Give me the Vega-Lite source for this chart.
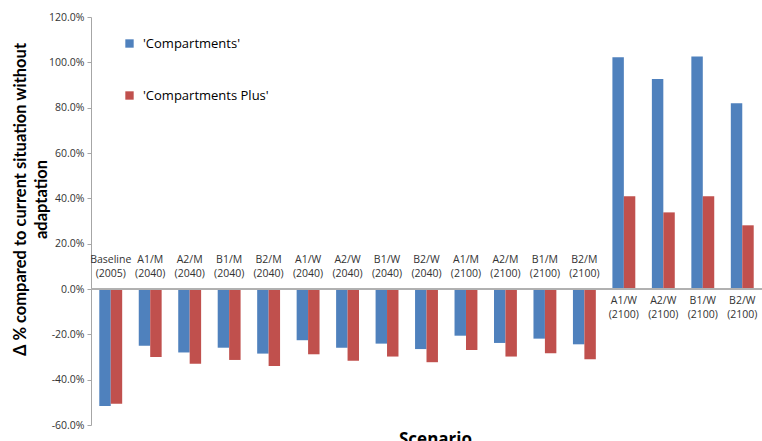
{
  "$schema": "https://vega.github.io/schema/vega-lite/v6.json",
  "width": 671,
  "height": 408,
  "autosize": {"type": "none"},
  "padding": {"left": 91, "top": 17, "right": 0, "bottom": 16},
  "background": "white",
  "config": {
    "view": {"stroke": null},
    "font": "Open Sans"
  },
  "data": {
    "values": [
      {"scenario": "Baseline (2005)", "series": "'Compartments'", "value": -51.6},
      {"scenario": "Baseline (2005)", "series": "'Compartments Plus'", "value": -50.6},
      {"scenario": "A1/M (2040)", "series": "'Compartments'", "value": -25.0},
      {"scenario": "A1/M (2040)", "series": "'Compartments Plus'", "value": -30.0},
      {"scenario": "A2/M (2040)", "series": "'Compartments'", "value": -28.0},
      {"scenario": "A2/M (2040)", "series": "'Compartments Plus'", "value": -33.0},
      {"scenario": "B1/M (2040)", "series": "'Compartments'", "value": -25.9},
      {"scenario": "B1/M (2040)", "series": "'Compartments Plus'", "value": -31.3},
      {"scenario": "B2/M (2040)", "series": "'Compartments'", "value": -28.5},
      {"scenario": "B2/M (2040)", "series": "'Compartments Plus'", "value": -34.0},
      {"scenario": "A1/W (2040)", "series": "'Compartments'", "value": -22.6},
      {"scenario": "A1/W (2040)", "series": "'Compartments Plus'", "value": -28.8},
      {"scenario": "A2/W (2040)", "series": "'Compartments'", "value": -25.9},
      {"scenario": "A2/W (2040)", "series": "'Compartments Plus'", "value": -31.6},
      {"scenario": "B1/W (2040)", "series": "'Compartments'", "value": -24.1},
      {"scenario": "B1/W (2040)", "series": "'Compartments Plus'", "value": -29.8},
      {"scenario": "B2/W (2040)", "series": "'Compartments'", "value": -26.5},
      {"scenario": "B2/W (2040)", "series": "'Compartments Plus'", "value": -32.3},
      {"scenario": "A1/M (2100)", "series": "'Compartments'", "value": -20.6},
      {"scenario": "A1/M (2100)", "series": "'Compartments Plus'", "value": -26.9},
      {"scenario": "A2/M (2100)", "series": "'Compartments'", "value": -23.8},
      {"scenario": "A2/M (2100)", "series": "'Compartments Plus'", "value": -29.8},
      {"scenario": "B1/M (2100)", "series": "'Compartments'", "value": -21.9},
      {"scenario": "B1/M (2100)", "series": "'Compartments Plus'", "value": -28.4},
      {"scenario": "B2/M (2100)", "series": "'Compartments'", "value": -24.4},
      {"scenario": "B2/M (2100)", "series": "'Compartments Plus'", "value": -31.0},
      {"scenario": "A1/W (2100)", "series": "'Compartments'", "value": 102.2},
      {"scenario": "A1/W (2100)", "series": "'Compartments Plus'", "value": 40.9},
      {"scenario": "A2/W (2100)", "series": "'Compartments'", "value": 92.6},
      {"scenario": "A2/W (2100)", "series": "'Compartments Plus'", "value": 33.8},
      {"scenario": "B1/W (2100)", "series": "'Compartments'", "value": 102.6},
      {"scenario": "B1/W (2100)", "series": "'Compartments Plus'", "value": 40.9},
      {"scenario": "B2/W (2100)", "series": "'Compartments'", "value": 81.9},
      {"scenario": "B2/W (2100)", "series": "'Compartments Plus'", "value": 28.1}
    ]
  },
  "encoding": {
    "x": {
      "field": "scenario",
      "type": "nominal",
      "sort": null,
      "scale": {"paddingInner": 0.42, "paddingOuter": 0.21},
      "axis": {
        "labels": false,
        "ticks": false,
        "domain": false,
        "title": "Scenario",
        "titleFont": "Open Sans",
        "titleFontSize": 17,
        "titleFontWeight": "bold",
        "titleColor": "#000000",
        "titlePadding": 6,
        "titleBaseline": "top",
        "titleX": 344
      }
    },
    "y": {
      "field": "value",
      "type": "quantitative",
      "scale": {"domain": [-60, 120], "nice": false, "zero": false},
      "axis": {
        "values": [-60, -40, -20, 0, 20, 40, 60, 80, 100, 120],
        "labelExpr": "replace(format(datum.value / 100, '.1%'), '\u2212', '-')",
        "grid": false,
        "domainColor": "#a6a6a6",
        "tickColor": "#a6a6a6",
        "tickSize": 4,
        "labelPadding": 3,
        "labelFontSize": 10.5,
        "labelColor": "#333333",
        "labelFont": "Open Sans",
        "title": ["\u0394 % compared to current situation without", "adaptation"],
        "titleFont": "Lato",
        "titleFontSize": 16.5,
        "titleFontWeight": "bold",
        "titleColor": "#000000",
        "titleAngle": -90,
        "titleAlign": "center",
        "titleBaseline": "middle",
        "titleX": -71,
        "titleY": 182,
        "titleLineHeight": 21
      }
    }
  },
  "layer": [
    {
      "mark": {"type": "bar"},
      "encoding": {
        "xOffset": {"field": "series", "type": "nominal", "sort": null},
        "color": {
          "field": "series",
          "type": "nominal",
          "scale": {
            "domain": ["'Compartments'", "'Compartments Plus'"],
            "range": ["#4F81BD", "#C0504D"]
          },
          "legend": {
            "title": null,
            "orient": "none",
            "legendX": 32,
            "legendY": 20,
            "symbolType": "square",
            "symbolSize": 70,
            "symbolStrokeWidth": 0,
            "labelFontSize": 13,
            "labelFont": "Open Sans",
            "labelColor": "#000000",
            "labelOffset": 7,
            "rowPadding": 38
          }
        }
      }
    },
    {
      "mark": {"type": "rule", "color": "#b0b0b0", "strokeWidth": 1},
      "encoding": {"y": {"datum": 0}, "x": null}
    },
    {
      "transform": [{"filter": "datum.series === \"'Compartments'\" && datum.value < 0"}],
      "mark": {
        "type": "text",
        "baseline": "bottom",
        "dy": -24,
        "fontSize": 10.5,
        "color": "#333333",
        "lineBreak": " ",
        "lineHeight": 14
      },
      "encoding": {"y": {"datum": 0}, "text": {"field": "scenario"}}
    },
    {
      "transform": [{"filter": "datum.series === \"'Compartments'\" && datum.value >= 0"}],
      "mark": {
        "type": "text",
        "baseline": "top",
        "dy": 7,
        "fontSize": 10.5,
        "color": "#333333",
        "lineBreak": " ",
        "lineHeight": 14
      },
      "encoding": {"y": {"datum": 0}, "text": {"field": "scenario"}}
    }
  ]
}
